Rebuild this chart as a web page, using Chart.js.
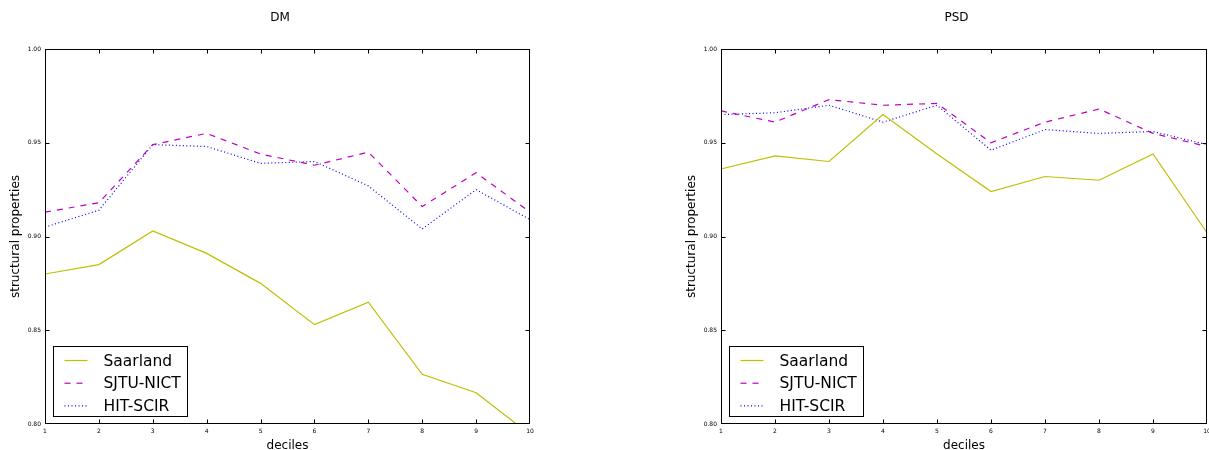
<!DOCTYPE html>
<html>
<head>
<meta charset="utf-8">
<script src="https://cdn.jsdelivr.net/npm/chart.js@4/dist/chart.umd.min.js"></script>
<style>
  html, body { margin: 0; padding: 0; background: #fff; overflow: hidden; width: 1209px; height: 450px; }
  canvas { position: absolute; top: 0; }
</style>
</head>
<body>
<canvas id="dm" width="560" height="450" style="left:0"></canvas>
<canvas id="psd" width="558" height="450" style="left:676px"></canvas>
<script>
const deciles = ['1', '2', '3', '4', '5', '6', '7', '8', '9', '10'];
const yTicks = [0.80, 0.85, 0.90, 0.95, 1.00];
const panelTitles = ['DM', 'PSD'];
const seriesNames = ['Saarland', 'SJTU-NICT', 'HIT-SCIR'];

// DM panel
const dmSaarland = [0.880, 0.885, 0.903, 0.891, 0.875, 0.853, 0.865, 0.8265, 0.8167, 0.7944];
const dmSjtu     = [0.913, 0.918, 0.949, 0.955, 0.944, 0.938, 0.945, 0.916, 0.934, 0.913];
const dmHit      = [0.905, 0.914, 0.949, 0.948, 0.939, 0.940, 0.927, 0.904, 0.925, 0.909];

// PSD panel
const psdSaarland = [0.936, 0.943, 0.940, 0.965, 0.944, 0.924, 0.932, 0.930, 0.944, 0.902];
const psdSjtu     = [0.967, 0.961, 0.973, 0.970, 0.971, 0.950, 0.961, 0.968, 0.955, 0.948];
const psdHit      = [0.965, 0.966, 0.970, 0.961, 0.970, 0.946, 0.957, 0.955, 0.956, 0.949];

const FONT = "'DejaVu Sans', sans-serif";
const styles = [
  { color: '#bfbf00', dash: [] },
  { color: '#bf00bf', dash: [6, 6] },
  { color: '#0000ff', dash: [1, 2.5] }
];

// box around the axes, inward ticks on all sides, title, legend
const decor = {
  id: 'decor',
  afterDatasetsDraw(chart, args, opts) {
    const { ctx, chartArea: a, scales: { x, y } } = chart;
    const L = Math.round(a.left) + 0.5, R = Math.round(a.right) - 0.5;
    const T = Math.round(a.top) + 0.5, B = Math.round(a.bottom) - 0.5;
    ctx.save();
    ctx.strokeStyle = '#000';
    ctx.lineWidth = 1;
    ctx.strokeRect(L, T, R - L, B - T);
    ctx.beginPath();
    x.ticks.forEach((t, i) => {
      const px = Math.min(R, Math.max(L, Math.round(x.getPixelForTick(i)) + 0.5));
      ctx.moveTo(px, B); ctx.lineTo(px, B - 4);
      ctx.moveTo(px, T); ctx.lineTo(px, T + 4);
    });
    y.ticks.forEach(t => {
      const py = Math.min(B, Math.max(T, Math.round(y.getPixelForValue(t.value)) + 0.5));
      ctx.moveTo(L, py); ctx.lineTo(L + 4, py);
      ctx.moveTo(R, py); ctx.lineTo(R - 4, py);
    });
    ctx.stroke();

    // title
    ctx.fillStyle = '#000';
    ctx.font = '12px ' + FONT;
    ctx.textAlign = 'center';
    ctx.textBaseline = 'middle';
    ctx.fillText(opts.text, (a.left + a.right) / 2 - 7.5, 18);

    // legend
    const bx = L + 8, bw = 134, bh = 70, by = B - 7 - bh;
    ctx.fillStyle = '#fff';
    ctx.fillRect(bx, by, bw, bh);
    ctx.strokeRect(bx, by, bw, bh);
    ctx.font = '15.5px ' + FONT;
    ctx.textAlign = 'left';
    chart.data.datasets.forEach((ds, i) => {
      const cy = by + 14 + i * 22.7;
      ctx.strokeStyle = ds.borderColor;
      ctx.lineWidth = 1.2;
      ctx.setLineDash(ds.borderDash);
      ctx.beginPath();
      ctx.moveTo(bx + 11, cy);
      ctx.lineTo(bx + 34, cy);
      ctx.stroke();
      ctx.setLineDash([]);
      ctx.fillStyle = '#000';
      ctx.fillText(ds.label, bx + 50, cy + 1);
    });
    ctx.restore();
  }
};

function makeChart(id, title, values, padRight) {
  new Chart(document.getElementById(id), {
    type: 'line',
    data: {
      labels: deciles,
      datasets: values.map((v, i) => ({
        label: seriesNames[i],
        data: v,
        borderColor: styles[i].color,
        borderDash: styles[i].dash,
        borderWidth: 1.2,
        pointRadius: 0,
        tension: 0,
        fill: false
      }))
    },
    options: {
      responsive: false,
      animation: false,
      layout: { padding: { top: 49, right: padRight, left: 0, bottom: 0 } },
      plugins: {
        legend: { display: false },
        tooltip: { enabled: false },
        decor: { text: title }
      },
      scales: {
        x: {
          type: 'category',
          offset: false,
          grid: { display: false, drawTicks: false },
          border: { display: false },
          ticks: { color: '#000', font: { size: 6, family: FONT }, padding: 4, maxRotation: 0, autoSkip: false },
          title: { display: true, text: 'deciles', color: '#000', font: { size: 12, family: FONT }, padding: { top: 0, bottom: -3 } },
          afterFit: s => { s.height = 26; }
        },
        y: {
          min: 0.8,
          max: 1.0,
          grid: { display: false, drawTicks: false },
          border: { display: false },
          afterBuildTicks: s => { s.ticks = yTicks.map(v => ({ value: v })); },
          ticks: { color: '#000', font: { size: 6, family: FONT }, padding: 4, callback: v => v.toFixed(2) },
          title: { display: true, text: 'structural properties', color: '#000', font: { size: 12, family: FONT }, padding: { top: 9, bottom: 0 } },
          afterFit: s => { s.width = 45; }
        }
      }
    },
    plugins: [decor]
  });
}

makeChart('dm', panelTitles[0], [dmSaarland, dmSjtu, dmHit], 30);
makeChart('psd', panelTitles[1], [psdSaarland, psdSjtu, psdHit], 27);
</script>
</body>
</html>
